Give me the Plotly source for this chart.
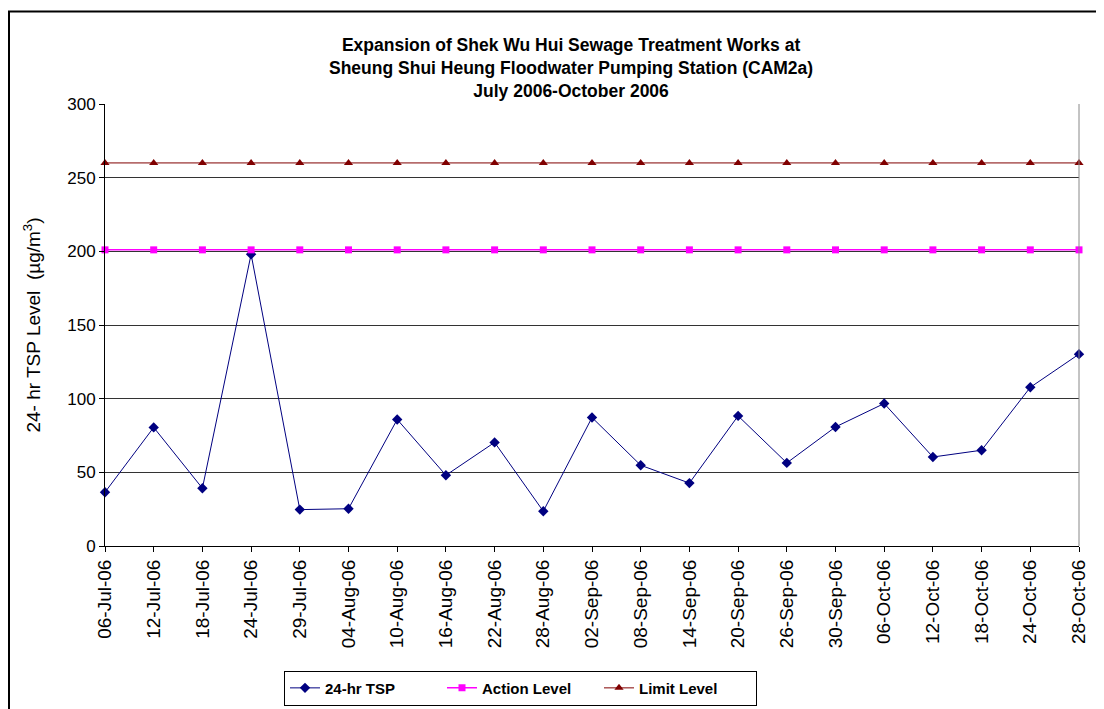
import plotly.graph_objects as go

dates = ["06-Jul-06", "12-Jul-06", "18-Jul-06", "24-Jul-06", "29-Jul-06", "04-Aug-06",
         "10-Aug-06", "16-Aug-06", "22-Aug-06", "28-Aug-06", "02-Sep-06", "08-Sep-06",
         "14-Sep-06", "20-Sep-06", "26-Sep-06", "30-Sep-06", "06-Oct-06", "12-Oct-06",
         "18-Oct-06", "24-Oct-06", "28-Oct-06"]
tsp = [36.5, 80.5, 39.2, 198, 24.7, 25.3, 85.9, 48.0, 70.3, 23.6, 87.2, 54.8,
       42.7, 88.3, 56.4, 80.8, 96.7, 60.4, 65.0, 107.7, 130.2]
action_level = [201] * len(dates)
limit_level = [260] * len(dates)

FONT = "Arial, Liberation Sans, sans-serif"
W, H = 1104, 709
OFF = 8  # page body margin offset
L, T = 105 - OFF, 104 - OFF
R = W - (1079 - OFF)
B = H - (558 - OFF)
pw, ph = W - L - R, H - T - B

def px(xs):  # screen x -> paper
    return (xs - OFF - L) / pw

def py(ys):  # screen y -> paper
    return (H - B - (ys - OFF)) / ph

fig = go.Figure()
fig.add_trace(go.Scatter(x=dates, y=tsp, name="24-hr TSP", mode="lines+markers",
                         line=dict(color="#000080", width=1),
                         marker=dict(symbol="diamond", size=8, color="#000080"),
                         cliponaxis=False))
fig.add_trace(go.Scatter(x=dates, y=action_level, name="Action Level", mode="lines+markers",
                         line=dict(color="#FF00FF", width=1.5),
                         marker=dict(symbol="square", size=7, color="#FF00FF"),
                         cliponaxis=False))
fig.add_trace(go.Scatter(x=dates, y=limit_level, name="Limit Level", mode="lines+markers",
                         line=dict(color="#800000", width=1),
                         marker=dict(symbol="triangle-up", size=8, color="#800000"),
                         cliponaxis=False))

fig.update_layout(
    width=W, height=H,
    margin=dict(l=L, r=R, t=T, b=B),
    paper_bgcolor="white", plot_bgcolor="white",
    font=dict(family=FONT, size=14, color="black"),
    showlegend=True,
    legend=dict(orientation="h", x=px(284), xanchor="left", y=py(686), yanchor="top",
                bordercolor="black", borderwidth=1, bgcolor="white",
                font=dict(family=FONT, size=15, color="black", weight="bold"),
                itemwidth=30, entrywidth=112, entrywidthmode="pixels",
                traceorder="normal"),
    xaxis=dict(type="category", range=[0, len(dates) - 1], showgrid=False,
               showline=True, linecolor="black", linewidth=1,
               ticks="outside", ticklen=5, tickcolor="black", tickangle=-90,
               tickfont=dict(family=FONT, size=19, color="black")),
    yaxis=dict(range=[0, 300], dtick=50, showgrid=True, gridcolor="#333333", gridwidth=1,
               showline=True, linecolor="black", linewidth=1, zeroline=False,
               ticks="outside", ticklen=5, tickcolor="black",
               tickfont=dict(family=FONT, size=17, color="black"),
               title=dict(text="24- hr TSP Level  (µg/m<sup>3</sup>)",
                          font=dict(family=FONT, size=19, color="black"), standoff=21)),
)

fig.add_annotation(xref="paper", yref="paper", x=px(571), y=py(67), xanchor="center", yanchor="middle",
                   text="<b>Expansion of Shek Wu Hui Sewage Treatment Works at<br>"
                        "Sheung Shui Heung Floodwater Pumping Station (CAM2a)<br>"
                        "July 2006-October 2006</b>",
                   showarrow=False, align="center",
                   font=dict(family=FONT, size=17.5, color="black"))

# outer chart-area frame
fig.add_shape(type="rect", xref="paper", yref="paper", x0=px(9), x1=px(1130), y0=py(740), y1=py(9),
              line=dict(color="black", width=2), layer="below")
# right border of plot area
fig.add_shape(type="line", xref="paper", yref="paper", x0=1, x1=1, y0=0, y1=1,
              line=dict(color="#888888", width=1))

fig.write_html("out.html")
